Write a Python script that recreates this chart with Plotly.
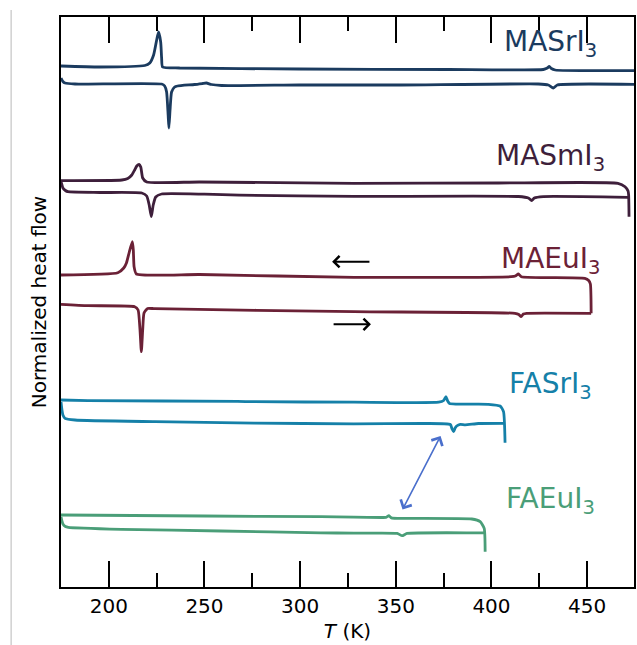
import plotly.graph_objects as go

# ---------------- data (T in K, heat flow in arbitrary normalized units) ----------------
samples = ["MASrI3", "MASmI3", "MAEuI3", "FASrI3", "FAEuI3"]
labels = ["MASrI<sub>3</sub>", "MASmI<sub>3</sub>", "MAEuI<sub>3</sub>",
          "FASrI<sub>3</sub>", "FAEuI<sub>3</sub>"]
colors = ["#1b3b5f", "#3e1f3b", "#6b2136", "#1580a8", "#4a9e78"]

# cooling curves (upper lines)
masri_cool_T = [175, 195.3, 218.8, 221.4, 223.4, 225.0, 226.0, 227.1, 227.6, 228.1, 237, 299.5, 377.6,
                427.1, 429.2, 430.2, 431.3, 433.3, 480]
masri_cool_H = [521, 520, 521.5, 524, 532, 547, 555, 545, 529, 520, 519, 518, 517.5,
                517.5, 519, 520.5, 518.5, 517, 516.5]
# heating curves (lower lines)
masri_heat_T = [175, 176.0, 177.1, 182.3, 227.6, 229.2, 230.2, 231.0, 231.4, 232.0, 232.8, 234.4, 235.9,
                244.8, 249.0, 251.0, 253.6, 258.9, 299.5, 351.6, 424.5, 429.7, 432.3, 434.4, 480]
masri_heat_H = [509, 505.5, 504, 503, 503, 501, 495, 472, 459, 477, 495, 500, 501,
                502.5, 503.5, 504, 502.5, 501.5, 502, 502, 503, 502, 499, 502, 502.5]

masmi_cool_T = [175, 206.8, 209.9, 212.0, 213.5, 214.6, 215.8, 216.7, 217.7, 219.8, 247.4, 328.1, 403.6,
                466.1, 469.8, 471.4, 471.7, 471.9]
masmi_cool_H = [406.3, 407, 408.5, 412, 417, 421, 422.7, 420, 409, 405, 405, 403.7, 404,
                403.7, 400.3, 396, 392, 370.3]
masmi_heat_T = [175, 175.5, 176.0, 177.3, 178.6, 195.3, 217.2, 219.8, 221.1, 222.2, 223.2, 224.5, 227.6,
                250.0, 268.2, 328.1, 414.1, 419.3, 421.0, 422.4, 427.1, 471.4]
masmi_heat_H = [405.3, 402, 399, 396.5, 395.3, 394.5, 394, 391, 382, 370.3, 382, 390, 393,
                392.8, 391.8, 390.6, 390.5, 389, 386.3, 389, 390.4, 389.7]

maeui_cool_T = [175, 204.7, 207.8, 209.2, 210.7, 212.3, 212.8, 213.2, 214.4, 247.4, 328.1, 410.4,
                412.5, 414.1, 415.6, 448.8, 450.8, 451.7, 452.1]
maeui_cool_H = [312, 314.3, 319, 324, 335, 345.3, 337, 320.3, 313, 312.5, 309.7, 310.3,
                311, 313, 310.3, 308.7, 306.5, 303, 273.7]
maeui_heat_T = [175, 189.1, 213.5, 215.3, 216.3, 217.0, 217.7, 218.4, 220.3, 224.0, 328.1, 412.3,
                414.3, 415.5, 416.7, 418.4, 452.1]
maeui_heat_H = [282.7, 281.3, 280.3, 277, 257, 235.3, 257, 274, 278.6, 278.3, 275.3, 273.7,
                272.5, 270.3, 273, 273.7, 273.7]

fasri_cool_T = [175, 189.1, 267.2, 276.0, 328.1, 372.4, 375.0, 376.2, 377.1, 378.1, 398.4, 404.5,
                406.3, 407.1]
fasri_cool_H = [187, 186.4, 185.6, 185.3, 184.8, 184.8, 186.5, 190.3, 186, 183.5, 182.7, 181,
                175.3, 144.3]
fasri_heat_T = [175, 175.5, 176.0, 177.1, 182.3, 224.0, 276.0, 328.1, 363.5, 378.5, 379.4, 380.2,
                381.0, 381.8, 383.7, 386.3, 393.2, 406.8]
fasri_heat_H = [185, 177, 172, 168.7, 167, 165.3, 163.9, 163.2, 163.5, 162.5, 158, 155.3,
                159, 161, 162.7, 162.2, 163.5, 163.7]

faeui_cool_T = [175, 250.0, 310.8, 328.1, 342.9, 344.8, 346.4, 347.4, 348.1, 389.7, 394.1, 396.2, 396.7]
faeui_cool_H = [72, 71, 70.3, 69.8, 69.5, 69.6, 71.3, 69.5, 68.9, 68, 65.3, 58.7, 35.3]
faeui_heat_T = [175, 175.5, 176.0, 177.3, 178.8, 206.6, 258.7, 310.8, 328.1, 350.7, 353.3, 355.9,
                394.9, 396.3]
faeui_heat_H = [70.3, 66, 63, 60.5, 59.7, 57.7, 56, 54.2, 53.8, 53.6, 51.3, 53.6, 54.2, 54.4]

cool_T = [masri_cool_T, masmi_cool_T, maeui_cool_T, fasri_cool_T, faeui_cool_T]
cool_H = [masri_cool_H, masmi_cool_H, maeui_cool_H, fasri_cool_H, faeui_cool_H]
heat_T = [masri_heat_T, masmi_heat_T, maeui_heat_T, fasri_heat_T, faeui_heat_T]
heat_H = [masri_heat_H, masmi_heat_H, maeui_heat_H, fasri_heat_H, faeui_heat_H]

# label positions (T, H)
label_T = [430.6, 430.6, 430.6, 430.6, 430.6]
label_H = [543.5, 429.5, 326.5, 201.2, 87]

# direction arrows: (head T, head H, tail T, tail H)
cool_arrow = (316.7, 325.3, 337.0, 325.3)
heat_arrow = (337.0, 262.7, 316.7, 262.7)
link_arrow = (373.4, 151, 353.1, 76)

x_range = [175, 474.5]
y_range = [0, 570]

# ---------------- figure ----------------
fig = go.Figure()
for i in range(len(samples)):
    for T, H in ((cool_T[i], cool_H[i]), (heat_T[i], heat_H[i])):
        fig.add_trace(go.Scatter(x=T, y=H, mode="lines",
                                 line=dict(color=colors[i], width=2.8, shape="spline", smoothing=0.5),
                                 showlegend=False, hoverinfo="skip"))
    fig.add_annotation(x=label_T[i], y=label_H[i], text=labels[i], showarrow=False,
                       xanchor="center", yanchor="middle",
                       font=dict(family="DejaVu Sans", size=28, color=colors[i]))

for (hx, hy, tx, ty) in (cool_arrow, heat_arrow):
    fig.add_annotation(x=hx, y=hy, ax=tx, ay=ty, xref="x", yref="y", axref="x", ayref="y",
                       text="", showarrow=True, arrowhead=4, arrowsize=1.1, arrowwidth=2,
                       arrowcolor="black")
hx, hy, tx, ty = link_arrow
fig.add_annotation(x=hx, y=hy, ax=tx, ay=ty, xref="x", yref="y", axref="x", ayref="y",
                   text="", showarrow=True, arrowhead=4, startarrowhead=4, arrowside="end+start",
                   arrowsize=1.5, startarrowsize=1.5, arrowwidth=1.6, arrowcolor="#4a6fcc")

# light page border line on the left
fig.add_shape(type="line", xref="paper", yref="paper", x0=-0.087, x1=-0.087, y0=-0.11, y1=1.0123,
              line=dict(color="#d0d0d0", width=1.5))

fig.update_layout(
    width=637, height=645,
    margin=dict(l=61, r=1, t=17, b=58),
    paper_bgcolor="white", plot_bgcolor="white",
    font=dict(family="DejaVu Sans", size=20, color="black"),
    xaxis=dict(range=x_range, showline=True, linewidth=2, linecolor="black", mirror="ticks",
               ticks="inside", ticklen=26, tickwidth=2, tickcolor="black",
               tick0=200, dtick=50, showgrid=False, zeroline=False,
               minor=dict(ticks="inside", ticklen=14, tickwidth=2, tickcolor="black", dtick=25,
                          tick0=175, showgrid=False),
               tickfont=dict(size=20),
               title=dict(text="<i>T</i> (K)", font=dict(size=20), standoff=7)),
    yaxis=dict(range=y_range, showline=True, linewidth=2, linecolor="black", mirror=True,
               ticks="", showticklabels=False, showgrid=False, zeroline=False,
               title=dict(text="Normalized heat flow", font=dict(size=20), standoff=7)),
)

fig.write_html("out.html")
